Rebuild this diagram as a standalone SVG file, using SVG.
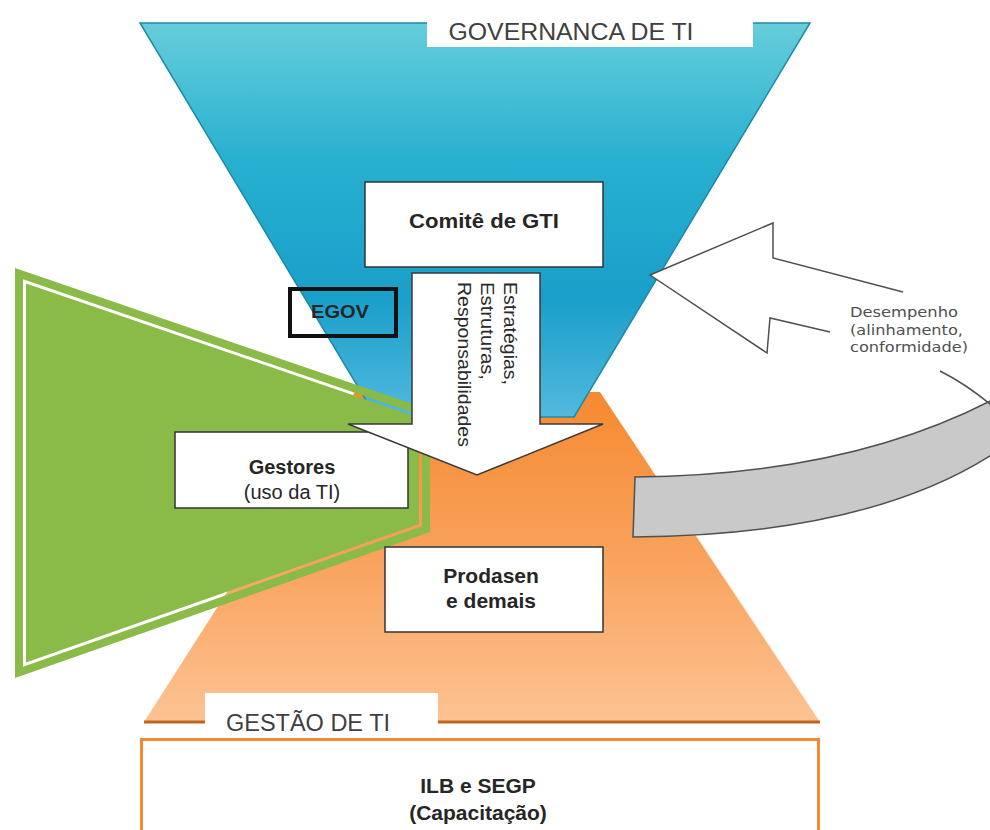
<svg xmlns="http://www.w3.org/2000/svg" width="990" height="830" viewBox="0 0 990 830">
<defs>
<linearGradient id="gBlue" gradientUnits="userSpaceOnUse" x1="0" y1="23" x2="0" y2="417">
<stop offset="0" stop-color="#66cddb"/>
<stop offset="0.35" stop-color="#27b0d0"/>
<stop offset="0.7" stop-color="#1a9fca"/>
<stop offset="1" stop-color="#52b9de"/>
</linearGradient>
<linearGradient id="gOrange" gradientUnits="userSpaceOnUse" x1="0" y1="392" x2="0" y2="722">
<stop offset="0" stop-color="#f58a30"/>
<stop offset="0.5" stop-color="#f9a25c"/>
<stop offset="1" stop-color="#fdc393"/>
</linearGradient>
<style>
.box{fill:#ffffff;stroke:#333333;stroke-width:1.5}
.lbl{font-family:"Liberation Sans",Arial,sans-serif;fill:#262626;text-anchor:middle}
.b{font-weight:bold}
.cap{font-family:"Liberation Sans",Arial,sans-serif;fill:#404040;font-size:23px;text-anchor:middle}
.note{font-family:"DejaVu Sans",sans-serif;fill:#505050;font-size:14.5px}
.vert{font-family:"Liberation Sans",Arial,sans-serif;fill:#2b2b2b;font-size:18px}
</style>
</defs>

<g id="gestao-ti-shape">
<polygon points="355,392 600,392 820,722 144,722" fill="url(#gOrange)"/>
<line x1="144" y1="722" x2="820" y2="722" stroke="#c0651f" stroke-width="3"/>
</g>

<g id="governanca-ti-shape">
<polygon points="140,23 810,23 574,417 376,417" fill="url(#gBlue)" stroke="#1b8aa6" stroke-width="1.5"/>
</g>

<g id="gestores-shape">
<path fill="#8aba48" fill-rule="evenodd" d="M15,268 L430,410 L430,532 L15,678 Z M23,279.2 L422,415.7 L422,526.2 L23,666.7 Z M26,283.4 L419,417.8 L419,524.1 L26,662.4 Z"/>
</g>

<g id="comite">
<rect class="box" x="365" y="182" width="238" height="85"/>
<text class="lbl b" x="484" y="228" font-size="21" textLength="150" lengthAdjust="spacingAndGlyphs">Comitê de GTI</text>
</g>

<g id="egov">
<rect x="290" y="289" width="106" height="47" fill="none" stroke="#111111" stroke-width="4"/>
<text class="lbl b" x="340" y="318" font-size="19" fill="#1b2736" textLength="58" lengthAdjust="spacingAndGlyphs">EGOV</text>
</g>

<g id="gestores">
<rect class="box" x="175" y="432" width="233" height="76"/>
<text class="lbl b" x="292" y="474" font-size="20">Gestores</text>
<text class="lbl" x="292" y="499" font-size="20" fill="#2f3b4a">(uso da TI)</text>
</g>

<g id="connectors">
<g id="estrategias-arrow">
<path d="M412,273 L540,273 L540,424 L603,424 L477,475 L348,424 L412,424 Z" fill="#ffffff" stroke="#3a3a3a" stroke-width="1.5" stroke-linejoin="miter"/>
<g transform="translate(504,282) rotate(90)">
<text class="vert" x="0" y="0" textLength="103" lengthAdjust="spacingAndGlyphs">Estratégias,</text>
<text class="vert" x="0" y="23" textLength="98" lengthAdjust="spacingAndGlyphs">Estruturas,</text>
<text class="vert" x="0" y="46" textLength="165" lengthAdjust="spacingAndGlyphs">Responsabilidades</text>
</g>
</g>
<g id="desempenho-arrow">
<path d="M635,477 Q850,475 996,398 L996,452 Q870,535 633,537 Z" fill="#c9c9c9" stroke="#505050" stroke-width="1.5"/>
<path d="M940,371 Q968,385 996,409" fill="none" stroke="#505050" stroke-width="1.5"/>
<path d="M903,292 L773,258 L773,223 L650,275 L767,353 L770,318 L830,332 L860,340 L860,290 Z" fill="#ffffff" stroke="none"/>
<polyline points="903,292 773,258 773,223 650,275 767,353 770,318 830,332" fill="none" stroke="#505050" stroke-width="1.5" stroke-linejoin="miter"/>
<text class="note" x="850" y="317" textLength="108" lengthAdjust="spacingAndGlyphs">Desempenho</text>
<text class="note" x="850" y="335" textLength="113" lengthAdjust="spacingAndGlyphs">(alinhamento,</text>
<text class="note" x="850" y="352" textLength="118" lengthAdjust="spacingAndGlyphs">conformidade)</text>
</g>
</g>

<g id="prodasen">
<rect class="box" x="385" y="547" width="218" height="85"/>
<text class="lbl b" x="491" y="583" font-size="21">Prodasen</text>
<text class="lbl b" x="491" y="608" font-size="21">e demais</text>
</g>

<g id="governanca-label">
<rect x="427" y="0" width="326" height="47" fill="#ffffff"/>
<text class="cap" x="571" y="40" textLength="245" lengthAdjust="spacingAndGlyphs">GOVERNANCA DE TI</text>
</g>

<g id="gestao-label">
<rect x="205" y="693" width="233" height="44" fill="#ffffff"/>
<text class="cap" x="308" y="731" textLength="164" lengthAdjust="spacingAndGlyphs">GESTÃO DE TI</text>
</g>

<g id="ilb">
<rect x="141.5" y="739.5" width="677" height="100" fill="#ffffff" stroke="#f08a30" stroke-width="3"/>
<text class="lbl b" x="478" y="793" font-size="21">ILB e SEGP</text>
<text class="lbl b" x="478" y="820" font-size="21">(Capacitação)</text>
</g>
</svg>
